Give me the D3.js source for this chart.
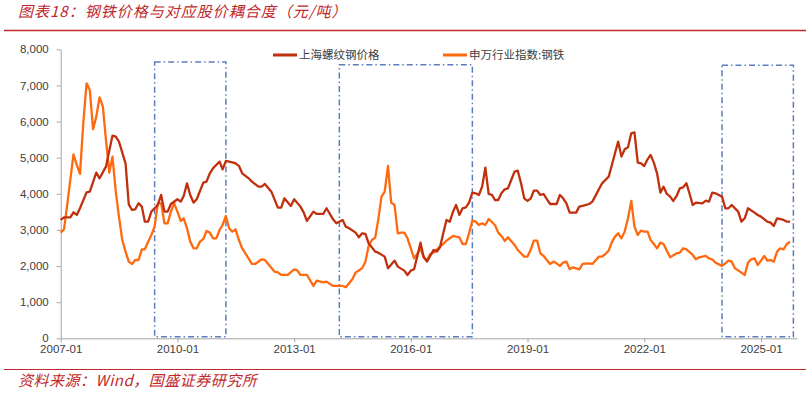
<!DOCTYPE html>
<html>
<head>
<meta charset="utf-8">
<script src="https://cdn.jsdelivr.net/npm/d3@7"></script>
<style>
  body { margin: 0; background: #fff; }
  svg { display: block; }
</style>
</head>
<body>
<svg id="chart" width="810" height="393"></svg>
<script>
// Chart data

const seriesNames = ['上海螺纹钢价格', '申万行业指数:钢铁'];
const xTickLabels = ['2007-01', '2010-01', '2013-01', '2016-01', '2019-01', '2022-01', '2025-01'];
const yTicks = [0, 1000, 2000, 3000, 4000, 5000, 6000, 7000, 8000];

// 上海螺纹钢价格 (元/吨)
const rebarMonths = ['2007-01','2007-02','2007-04','2007-05','2007-06','2007-07','2007-09','2007-10','2007-12','2008-01','2008-03','2008-05','2008-06','2008-07','2008-09','2008-10','2008-11','2008-12','2009-01','2009-02','2009-03','2009-04','2009-05','2009-07','2009-08','2009-09','2009-10','2009-11','2010-01','2010-02','2010-03','2010-04','2010-05','2010-06','2010-07','2010-09','2010-10','2010-11','2010-12','2011-02','2011-03','2011-04','2011-06','2011-07','2011-08','2011-09','2011-11','2011-12','2012-02','2012-03','2012-04','2012-06','2012-08','2012-09','2012-10','2012-12','2013-01','2013-03','2013-04','2013-05','2013-07','2013-08','2013-10','2013-11','2014-01','2014-02','2014-04','2014-05','2014-06','2014-08','2014-09','2014-10','2014-11','2014-12','2015-02','2015-03','2015-05','2015-06','2015-08','2015-09','2015-11','2015-12','2016-01','2016-02','2016-03','2016-04','2016-05','2016-06','2016-07','2016-08','2016-09','2016-10','2016-11','2016-12','2017-01','2017-02','2017-03','2017-04','2017-05','2017-06','2017-07','2017-08','2017-09','2017-10','2017-11','2017-12','2018-01','2018-02','2018-03','2018-04','2018-05','2018-06','2018-07','2018-08','2018-09','2018-10','2018-11','2018-12','2019-01','2019-02','2019-03','2019-04','2019-05','2019-06','2019-07','2019-08','2019-09','2019-10','2019-11','2019-12','2020-01','2020-02','2020-03','2020-04','2020-05','2020-06','2020-08','2020-09','2020-10','2020-11','2020-12','2021-01','2021-02','2021-03','2021-04','2021-05','2021-06','2021-07','2021-08','2021-09','2021-10','2021-11','2021-12','2022-01','2022-02','2022-03','2022-04','2022-05','2022-06','2022-07','2022-08','2022-09','2022-10','2022-11','2022-12','2023-01','2023-02','2023-03','2023-04','2023-05','2023-07','2023-08','2023-09','2023-10','2023-11','2024-01','2024-02','2024-03','2024-04','2024-06','2024-07','2024-08','2024-09','2024-11','2024-12','2025-01','2025-03','2025-04','2025-05','2025-06','2025-08','2025-09','2025-10'];
const rebarValues = [3276,3350,3350,3488,3414,3600,4041,4060,4586,4429,4752,5610,5582,5444,4844,3709,3552,3571,3737,3645,3229,3229,3506,3691,3968,3506,3506,3718,3848,3783,3940,4290,3968,3755,3848,4309,4337,4567,4706,4890,4678,4909,4872,4844,4775,4567,4429,4337,4198,4198,4272,4060,3617,3617,3875,3663,3848,3645,3479,3248,3506,3442,3442,3599,3294,3183,3276,3091,3045,2925,2796,2906,2888,2630,2399,2371,2261,1938,2150,1984,1873,1753,1873,1910,2261,2648,2250,2122,2279,2445,2399,2519,2906,3276,3229,3506,3691,3414,3599,3626,3755,4032,4014,3968,4198,4724,3995,3968,3829,3829,4014,4124,4150,4383,4614,4641,4290,3875,3802,3875,4088,4088,3968,3995,3850,3718,3718,3718,3968,3875,3737,3479,3479,3479,3645,3663,3718,3783,3950,4124,4290,4383,4475,4775,5121,5444,5029,5232,5287,5675,5702,4863,4844,4770,4955,5075,4863,4567,4032,4198,3995,3921,3802,3940,4152,4180,4290,4014,3691,3755,3737,3811,3783,4032,4014,3921,3599,3599,3691,3506,3229,3322,3599,3479,3414,3368,3229,3202,3110,3322,3276,3229,3229];

// 申万行业指数:钢铁
const indexMonths = ['2007-01','2007-02','2007-03','2007-05','2007-06','2007-07','2007-08','2007-09','2007-10','2007-11','2007-12','2008-01','2008-02','2008-03','2008-04','2008-05','2008-06','2008-07','2008-08','2008-09','2008-10','2008-11','2008-12','2009-01','2009-02','2009-03','2009-04','2009-05','2009-06','2009-07','2009-08','2009-09','2009-10','2009-11','2009-12','2010-01','2010-02','2010-03','2010-04','2010-05','2010-06','2010-07','2010-08','2010-09','2010-10','2010-11','2010-12','2011-01','2011-02','2011-03','2011-04','2011-05','2011-06','2011-07','2011-08','2011-09','2011-10','2011-12','2012-01','2012-03','2012-04','2012-07','2012-08','2012-09','2012-11','2013-01','2013-02','2013-03','2013-05','2013-07','2013-08','2013-10','2013-11','2014-01','2014-02','2014-04','2014-05','2014-07','2014-08','2014-10','2014-11','2014-12','2015-01','2015-02','2015-03','2015-04','2015-05','2015-06','2015-07','2015-08','2015-09','2015-10','2015-11','2015-12','2016-01','2016-02','2016-03','2016-04','2016-05','2016-06','2016-07','2016-08','2016-09','2016-11','2016-12','2017-02','2017-03','2017-04','2017-05','2017-06','2017-07','2017-08','2017-09','2017-10','2017-11','2017-12','2018-01','2018-03','2018-04','2018-05','2018-06','2018-07','2018-09','2018-10','2018-12','2019-01','2019-02','2019-03','2019-04','2019-05','2019-06','2019-07','2019-08','2019-09','2019-10','2019-11','2019-12','2020-01','2020-02','2020-03','2020-04','2020-05','2020-06','2020-08','2020-09','2020-11','2020-12','2021-01','2021-02','2021-03','2021-04','2021-05','2021-06','2021-07','2021-08','2021-09','2021-10','2021-11','2021-12','2022-01','2022-02','2022-03','2022-04','2022-05','2022-06','2022-07','2022-08','2022-09','2022-11','2022-12','2023-01','2023-02','2023-04','2023-05','2023-06','2023-08','2023-09','2023-10','2023-11','2024-01','2024-02','2024-03','2024-04','2024-05','2024-07','2024-08','2024-09','2024-10','2024-11','2024-12','2025-01','2025-02','2025-03','2025-04','2025-05','2025-06','2025-07','2025-08','2025-09','2025-10'];
const indexValues = [2925,3017,3645,5093,4798,4549,5951,7059,6874,5785,6136,6671,6413,5490,4586,5029,4060,3368,2722,2399,2122,2058,2168,2168,2463,2463,2676,2860,3091,3737,3737,3183,3183,3506,3737,3506,3248,3322,3045,2676,2491,2491,2676,2750,2971,2925,2768,2768,2999,3137,3386,3045,2953,3017,2722,2491,2353,2058,2058,2187,2168,1845,1827,1753,1753,1910,1873,1753,1753,1449,1596,1550,1568,1449,1449,1449,1412,1633,1818,1938,2122,2556,2722,2787,3276,3921,4060,4770,3755,3691,2906,2925,2925,2768,2491,2214,2334,2491,2242,2160,2334,2371,2463,2611,2704,2833,2814,2796,2611,2611,2906,3257,3229,3137,3183,3137,3303,3137,2925,2833,2694,2796,2584,2445,2261,2261,2463,2704,2704,2353,2279,2168,2058,2122,2076,2002,2095,2122,1910,1965,1938,1910,2058,2076,2058,2261,2261,2334,2426,2650,2814,2906,2768,2953,3322,3802,3091,2860,2980,2953,2953,2722,2611,2491,2648,2611,2426,2242,2353,2371,2491,2463,2307,2187,2242,2279,2214,2187,2095,2002,2076,2150,2122,1938,1818,1753,2095,2187,2214,2030,2150,2279,2150,2168,2122,2399,2491,2463,2611,2676];

// Highlighted periods (dash-dot boxes)
const boxStarts = ['2009-06', '2014-03', '2024-01'];
const boxEnds = ['2011-04', '2017-08', '2025-11'];
const boxTops = [7650, 7570, 7560];

const seriesColors = ['#C0300E', '#FF6A10'];
const textColor = '#404040';
const axisColor = '#A6A6A6';
const titleRed = '#C0282D';

const parseMonth = d3.timeParse('%Y-%m');

const svg = d3.select('#chart');

// Scales: 2007-01 sits on the y axis, 3-year ticks
const x = d3.scaleTime()
    .domain([parseMonth('2007-01'), parseMonth('2025-01')])
    .range([60.7, 761]);
x.domain([x.domain()[0], x.invert(797)]).range([60.7, 797]);

const y = d3.scaleLinear()
    .domain([0, 8000])
    .range([338.3, 49.3]);

// Title and its rule
svg.append('text')
    .attr('x', 18)
    .attr('y', 17)
    .attr('fill', titleRed)
    .attr('font-family', '"Noto Sans CJK SC", sans-serif')
    .attr('font-style', 'italic')
    .attr('font-size', '15px')
    .attr('letter-spacing', '1px')
    .text('图表18：钢铁价格与对应股价耦合度（元/吨）');

svg.append('line')
    .attr('x1', 4).attr('x2', 806)
    .attr('y1', 30.5).attr('y2', 30.5)
    .attr('stroke', titleRed)
    .attr('stroke-width', 1.5);

// Source line at bottom
svg.append('line')
    .attr('x1', 4).attr('x2', 806)
    .attr('y1', 369.5).attr('y2', 369.5)
    .attr('stroke', titleRed)
    .attr('stroke-width', 1);

svg.append('text')
    .attr('x', 18)
    .attr('y', 386)
    .attr('fill', titleRed)
    .attr('font-family', '"Noto Sans CJK SC", sans-serif')
    .attr('font-style', 'italic')
    .attr('font-size', '15px')
    .attr('letter-spacing', '0.5px')
    .text('资料来源：Wind，国盛证券研究所');

// Axes
const yAxis = svg.append('g')
    .attr('transform', `translate(${x.range()[0]},0)`)
    .call(d3.axisLeft(y)
        .tickValues(yTicks)
        .tickFormat(d3.format(','))
        .tickSize(4)
        .tickSizeOuter(0)
        .tickPadding(8));

const xAxis = svg.append('g')
    .attr('transform', `translate(0,${y(0)})`)
    .call(d3.axisBottom(x)
        .tickValues(xTickLabels.map(parseMonth))
        .tickFormat(d3.timeFormat('%Y-%m'))
        .tickSize(4)
        .tickSizeOuter(0)
        .tickPadding(3));

[yAxis, xAxis].forEach(g => {
    g.select('.domain').attr('stroke', axisColor);
    g.selectAll('.tick line').attr('stroke', axisColor);
    g.selectAll('.tick text')
        .attr('fill', textColor)
        .attr('font-family', '"Liberation Sans", Arial, sans-serif')
        .attr('font-size', '11.5px');
});

// Dash-dot highlight boxes
svg.selectAll('.period-box')
    .data(boxStarts.map((s, i) => ({ start: s, end: boxEnds[i], top: boxTops[i] })))
    .enter()
    .append('rect')
    .attr('class', 'period-box')
    .attr('x', d => x(parseMonth(d.start)))
    .attr('y', d => y(d.top))
    .attr('width', d => x(parseMonth(d.end)) - x(parseMonth(d.start)))
    .attr('height', d => y(40) - y(d.top))
    .attr('fill', 'none')
    .attr('stroke', '#5B7DBF')
    .attr('stroke-width', 1.5)
    .attr('stroke-dasharray', '6,3,1.5,3');

// Lines
const series = [
    { name: seriesNames[0], color: seriesColors[0], points: rebarMonths.map((m, i) => ({ date: parseMonth(m), value: rebarValues[i] })) },
    { name: seriesNames[1], color: seriesColors[1], points: indexMonths.map((m, i) => ({ date: parseMonth(m), value: indexValues[i] })) }
];

const line = d3.line()
    .x(d => x(d.date))
    .y(d => y(d.value));

// orange drawn first, red on top
svg.selectAll('.series-line')
    .data(series.slice().reverse())
    .enter()
    .append('path')
    .attr('class', 'series-line')
    .attr('d', d => line(d.points))
    .attr('fill', 'none')
    .attr('stroke', d => d.color)
    .attr('stroke-width', 2.3)
    .attr('stroke-linejoin', 'round');

// Legend
const legendX = [273, 443];
const legend = svg.selectAll('.legend-item')
    .data(series)
    .enter()
    .append('g')
    .attr('class', 'legend-item')
    .attr('transform', (d, i) => `translate(${legendX[i]},55)`);

legend.append('line')
    .attr('x1', 0).attr('x2', 24)
    .attr('stroke', d => d.color)
    .attr('stroke-width', 3);

legend.append('text')
    .attr('x', 26)
    .attr('y', 4)
    .attr('fill', textColor)
    .attr('font-family', '"Noto Sans CJK SC", sans-serif')
    .attr('font-size', '11.5px')
    .text(d => d.name);
</script>
</body>
</html>
